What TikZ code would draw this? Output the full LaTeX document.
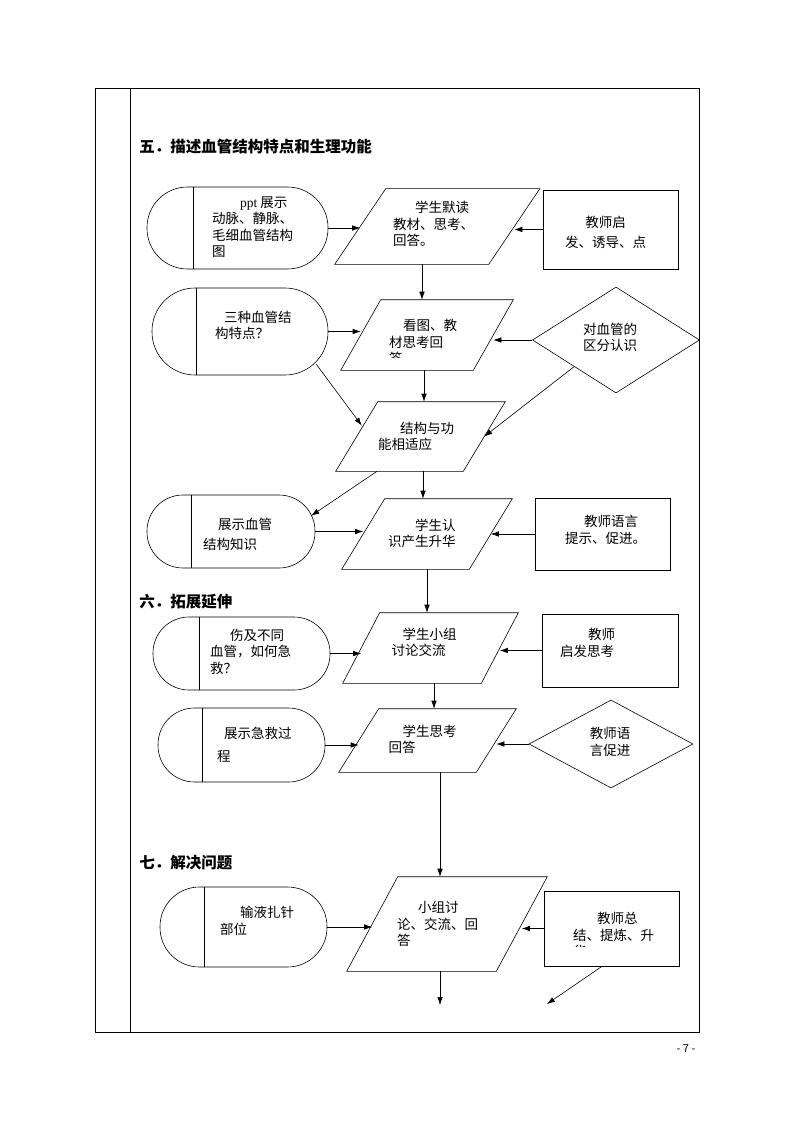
\documentclass[tikz,border=0pt]{standalone}
\usepackage{fontspec}
\setmainfont{Noto Sans CJK SC}
\newfontfamily\serifpart{Liberation Serif}
\usetikzlibrary{arrows.meta,shapes.geometric,calc}

\newcommand\bodyfont{\fontsize{13.5pt}{16.5pt}\selectfont}
\newcommand\headfont{\fontsize{15.5pt}{18pt}\selectfont\bfseries}
% outline of an input box around a plain node
\newcommand\iooutline[2]{\draw ([xshift=#2]#1.north west) -- ([xshift=#2]#1.north east) -- ([xshift=-#2]#1.south east) -- ([xshift=-#2]#1.south west) -- cycle;}
% the inner bar of a terminal
\newcommand\termbar[2]{\draw ([xshift=#2]#1.north west) -- ([xshift=#2]#1.south west);}

\tikzset{
  term/.style={draw, inner sep=0pt},
  io/.style={inner sep=0pt},
  proc/.style={draw, inner sep=0pt},
  judge/.style={draw, diamond, inner sep=0pt},
  lbl/.style={font=\bodyfont, align=left, inner sep=0pt, anchor=west},
  mid/.style={font=\bodyfont, align=center, inner sep=0pt},
  head/.style={font=\headfont, anchor=west, inner sep=0pt},
  arr/.style={-{Latex[length=8pt,width=5.5pt]}}
}

\begin{document}
\begin{tikzpicture}[x=1pt, y=-1pt, line width=0.6pt]
    \useasboundingbox (0,0) rectangle (794,1123);

    % table frame
    \draw (95,88) rectangle (699,1032);
    \draw (130,88) -- (130,1032);

    \node[head] (h5) at (139,147) {五．描述血管结构特点和生理功能};
    \node[head] (h6) at (139,602) {六．拓展延伸};
    \node[head] (h7) at (139,863) {七．解决问题};

    % row 1
    \node[term, minimum width=181pt, minimum height=82pt, rounded corners=40.5pt,
      label={[lbl, xshift=65pt, yshift=1pt]west:{\hspace*{28pt}{\serifpart ppt} 展示\\动脉、静脉、\\毛细血管结构\\图}}] (s1) at (237.5,228) {};
    \termbar{s1}{47pt}
    \node[io, minimum width=153.5pt, minimum height=75pt,
      label={[lbl, xshift=32.5pt, yshift=2.5pt]west:{\hspace*{22pt}学生默读\\教材、思考、\\回答。}}] (p1) at (437.25,226.5) {};
    \iooutline{p1}{25.5pt}
    \node[proc, minimum width=135pt, minimum height=79pt,
      label={[mid, xshift=-5pt, yshift=-2.5pt]center:{教师启\\[3.5pt]发、诱导、点}}] (r1) at (610.5,229.5) {};

    % row 2
    \node[term, minimum width=176pt, minimum height=87pt, rounded corners=43pt,
      label={[lbl, xshift=63pt, yshift=6pt]west:{\hspace*{9pt}三种血管结\\构特点？}}] (s2) at (240,331.5) {};
    \termbar{s2}{45pt}
    \begin{scope}
      \clip (330,280) rectangle (530,357);
      \node[io, minimum width=132pt, minimum height=70pt,
        label={[lbl, xshift=28pt, yshift=-7pt]west:{\hspace*{14pt}看图、教\\材思考回\\答}}] (p2) at (427,335) {};
    \end{scope}
    \iooutline{p2}{20pt}
    \node[judge, minimum width=167pt, minimum height=106pt,
      label={[mid, xshift=-6pt, yshift=2.5pt]center:{对血管的\\区分认识}}] (d2) at (616,340) {};

    % row 3
    \node[io, minimum width=127pt, minimum height=69pt,
      label={[lbl, xshift=21pt]west:{\hspace*{22pt}结构与功\\能相适应}}] (p3) at (420.5,436.5) {};
    \iooutline{p3}{21pt}

    % row 4
    \node[term, minimum width=168pt, minimum height=73pt, rounded corners=36pt,
      label={[lbl, xshift=56pt, yshift=-3pt]west:{\hspace*{15pt}展示血管\\[4pt]结构知识}}] (s4) at (231,531.5) {};
    \termbar{s4}{45pt}
    \node[io, minimum width=127pt, minimum height=70pt,
      label={[lbl, xshift=24.5pt, yshift=0.5pt]west:{\hspace*{27pt}学生认\\识产生升华}}] (p4) at (427,534) {};
    \iooutline{p4}{21.5pt}
    \node[proc, minimum width=135pt, minimum height=72pt,
      label={[lbl, xshift=30pt, yshift=4pt]west:{\hspace*{19pt}教师语言\\提示、促进。}}] (r4) at (602.5,534) {};

    % row 5
    \node[term, minimum width=177pt, minimum height=73pt, rounded corners=36pt,
      label={[lbl, xshift=57pt, yshift=2pt]west:{\hspace*{20pt}伤及不同\\血管，如何急\\救？}}] (s5) at (241.5,653.5) {};
    \termbar{s5}{47pt}
    \node[io, minimum width=138pt, minimum height=70pt,
      label={[lbl, xshift=30pt, yshift=5.5pt]west:{\hspace*{11pt}学生小组\\讨论交流}}] (p5) at (430.5,648) {};
    \iooutline{p5}{18.5pt}
    \node[proc, minimum width=136pt, minimum height=73pt,
      label={[lbl, xshift=18pt, yshift=7.5pt]west:{\hspace*{28pt}教师\\启发思考}}] (r5) at (610,650.5) {};

    % row 6
    \node[term, minimum width=167pt, minimum height=74pt, rounded corners=36.5pt,
      label={[lbl, xshift=59pt]west:{\hspace*{7pt}展示急救过\\[6pt]程}}] (s6) at (241.5,745) {};
    \termbar{s6}{45pt}
    \node[io, minimum width=137pt, minimum height=63pt,
      label={[lbl, xshift=29.5pt, yshift=1pt]west:{\hspace*{14pt}学生思考\\回答}}] (p6) at (427.5,740.5) {};
    \iooutline{p6}{20pt}
    \node[judge, minimum width=164pt, minimum height=88pt,
      label={[mid, xshift=-1pt, yshift=2pt]center:{教师语\\言促进}}] (d6) at (611,744) {};

    % row 7
    \node[term, minimum width=167pt, minimum height=80pt, rounded corners=39.5pt,
      label={[lbl, xshift=60pt, yshift=6pt]west:{\hspace*{20pt}输液扎针\\部位}}] (s7) at (243.5,927) {};
    \termbar{s7}{45pt}
    \node[io, minimum width=149pt, minimum height=94pt,
      label={[lbl, xshift=24.5pt]west:{\hspace*{21pt}小组讨\\论、交流、回\\答}}] (p7) at (447,924) {};
    \iooutline{p7}{25.5pt}
    \begin{scope}
      \clip (530,880) rectangle (700,946) (530,946) rectangle (560,990)
            (670,946) rectangle (700,990) (530,962) rectangle (700,990);
      \node[proc, minimum width=135pt, minimum height=75pt,
        label={[lbl, xshift=29pt, yshift=-6.5pt]west:{\hspace*{24pt}教师总\\结、提炼、升\\华}}] (r7) at (611.5,928.5) {};
    \end{scope}
    \coordinate (end1) at (440,1005);
    \coordinate (end2) at (547,1004);

    % connectors
    \draw[arr] (s1.east) -- (s1.east -| p1.west);
    \draw[arr] (r1.west) -- (r1.west -| p1.east);
    \draw[arr] ([xshift=-15.25pt]p1.south) -- ([xshift=-15.25pt]p1.south |- p2.north);

    \draw[arr] (s2.east) -- (s2.east -| p2.west);
    \draw[arr] (d2.west) -- (d2.west -| p2.east);
    \draw[arr] ([xshift=-3pt]p2.south) -- ([xshift=-3pt]p2.south |- p3.north);
    \draw[arr] ($(s2.south east)+(-12,-11)$) -- ($(p3.west)+(5,-11)$);
    \draw[arr] (d2.south west) -- (p3.east);

    \draw[arr] ([xshift=-43.5pt]p3.south) -- ($(s4.north east)+(-4,21)$);
    \draw[arr] ([xshift=2.5pt]p3.south) -- ([xshift=2.5pt]p3.south |- p4.north);

    \draw[arr] (s4.east) -- (s4.east -| p4.west);
    \draw[arr] (r4.west) -- (r4.west -| p4.east);
    \draw[arr] (p4.south) -- (p4.south |- p5.north);

    \draw[arr] (s5.east) -- (s5.east -| p5.west);
    \draw[arr] (r5.west) -- (r5.west -| p5.east);
    \draw[arr] ([xshift=3.5pt]p5.south) -- ([xshift=3.5pt]p5.south |- p6.north);

    \draw[arr] (s6.east) -- (s6.east -| p6.west);
    \draw[arr] (d6.west) -- (d6.west -| p6.east);
    \draw[arr] ([xshift=12.5pt]p6.south) -- ([xshift=12.5pt]p6.south |- p7.north);

    \draw[arr] (s7.east) -- (s7.east -| p7.west);
    \draw[arr] (r7.west) -- (r7.west -| p7.east);
    \draw[arr] ([xshift=-7pt]p7.south) -- (end1);
    \draw[arr] ([xshift=-9.5pt]r7.south) -- (end2);

    \node[font=\fontsize{11pt}{13pt}\selectfont, inner sep=0pt] (pgno) at (686,1049) {- 7 -};

\end{tikzpicture}
\end{document}
